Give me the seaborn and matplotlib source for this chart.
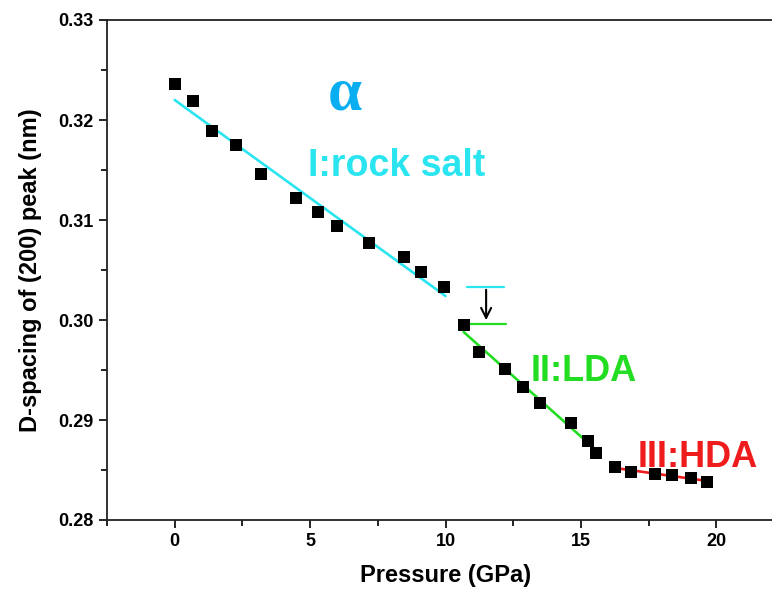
import numpy as np
import pandas as pd
import seaborn as sns
import matplotlib.pyplot as plt
from matplotlib.ticker import MultipleLocator

pressure = [0.0, 0.66, 1.37, 2.25, 3.17, 4.47, 5.28, 5.98, 7.16, 8.45, 9.08, 9.96,
            10.67, 11.25, 12.18, 12.88, 13.5, 14.65, 15.28, 15.57,
            16.27, 16.86, 17.75, 18.38, 19.08, 19.67]
d_spacing = [0.3236, 0.3219, 0.3189, 0.3175, 0.3146, 0.3122, 0.3108, 0.3094, 0.3077, 0.3063, 0.3048, 0.3033,
             0.2995, 0.2968, 0.2951, 0.2933, 0.2917, 0.2897, 0.2879, 0.2867,
             0.2853, 0.2848, 0.2846, 0.2845, 0.2842, 0.2838]

# linear fit segments (end points)
fit_phase = ["I", "I", "II", "II", "III", "III"]
fit_x = [0.0, 10.0, 10.67, 15.6, 16.27, 19.67]
fit_y = [0.3220, 0.3024, 0.2988, 0.2869, 0.2852, 0.2839]

# jump markers
jump_x = [10.8, 12.15]
jump_top = 0.3033
jump_bottom = 0.2996

colors = {"I": "#2ae4ef", "II": "#22dd22", "III": "#ee1c1c"}

sns.set_theme(style="ticks")
plt.rcParams["font.family"] = ["Liberation Sans", "DejaVu Sans"]
plt.rcParams["font.weight"] = "bold"
plt.rcParams["axes.labelweight"] = "bold"
plt.rcParams["text.color"] = "black"
plt.rcParams["axes.labelcolor"] = "black"
plt.rcParams["xtick.color"] = "black"
plt.rcParams["ytick.color"] = "black"

fig = plt.figure(figsize=(7.72, 5.98), dpi=100)
ax = fig.add_axes([107 / 772, 78 / 598, (784 - 107) / 772, 500 / 598])

fits = pd.DataFrame({"phase": fit_phase, "x": fit_x, "y": fit_y})
sns.lineplot(data=fits, x="x", y="y", hue="phase", palette=colors,
             linewidth=1.9, legend=False, ax=ax, estimator=None, sort=False)

pts = pd.DataFrame({"p": pressure, "d": d_spacing})
sns.scatterplot(data=pts, x="p", y="d", marker="s", s=75, color="black",
                edgecolor="black", linewidth=0, ax=ax, zorder=3)

# step between phase I and II
ax.plot(jump_x, [jump_top, jump_top], color=colors["I"], lw=1.6)
ax.plot([10.92, 12.25], [jump_bottom, jump_bottom], color=colors["II"], lw=1.6)
ax.annotate("", xy=(11.5, jump_bottom + 0.0001), xytext=(11.5, jump_top),
            arrowprops=dict(arrowstyle="->", color="black", lw=1.5, mutation_scale=18))

ax.text(6.28, 0.3211, "α", color="#08aef0", fontsize=44, family="Liberation Serif",
        fontweight="bold", ha="center", va="baseline")
ax.text(8.2, 0.3154, "I:rock salt", color=colors["I"], fontsize=27,
        ha="center", va="center")
ax.text(15.1, 0.2949, "II:LDA", color=colors["II"], fontsize=26,
        ha="center", va="center")
ax.text(19.3, 0.2863, "III:HDA", color=colors["III"], fontsize=26,
        ha="center", va="center")

ax.set_xlim(-2.5, 22.5)
ax.set_ylim(0.28, 0.33)
ax.xaxis.set_major_locator(MultipleLocator(5))
ax.xaxis.set_minor_locator(MultipleLocator(2.5))
ax.yaxis.set_major_locator(MultipleLocator(0.01))
ax.yaxis.set_minor_locator(MultipleLocator(0.005))
ax.set_yticks([0.28, 0.29, 0.30, 0.31, 0.32, 0.33])
ax.set_yticklabels(["0.28", "0.29", "0.30", "0.31", "0.32", "0.33"])
ax.tick_params(which="major", direction="out", length=6, width=1.2, labelsize=13)
ax.tick_params(which="minor", direction="out", length=4, width=1.2)
for sp in ax.spines.values():
    sp.set_linewidth(1.3)
    sp.set_color("#222222")

ax.set_xlabel("Pressure (GPa)", fontsize=17, labelpad=10)
ax.set_ylabel("D-spacing of (200) peak (nm)", fontsize=17, labelpad=12)

fig.savefig("out.png", dpi=100)
